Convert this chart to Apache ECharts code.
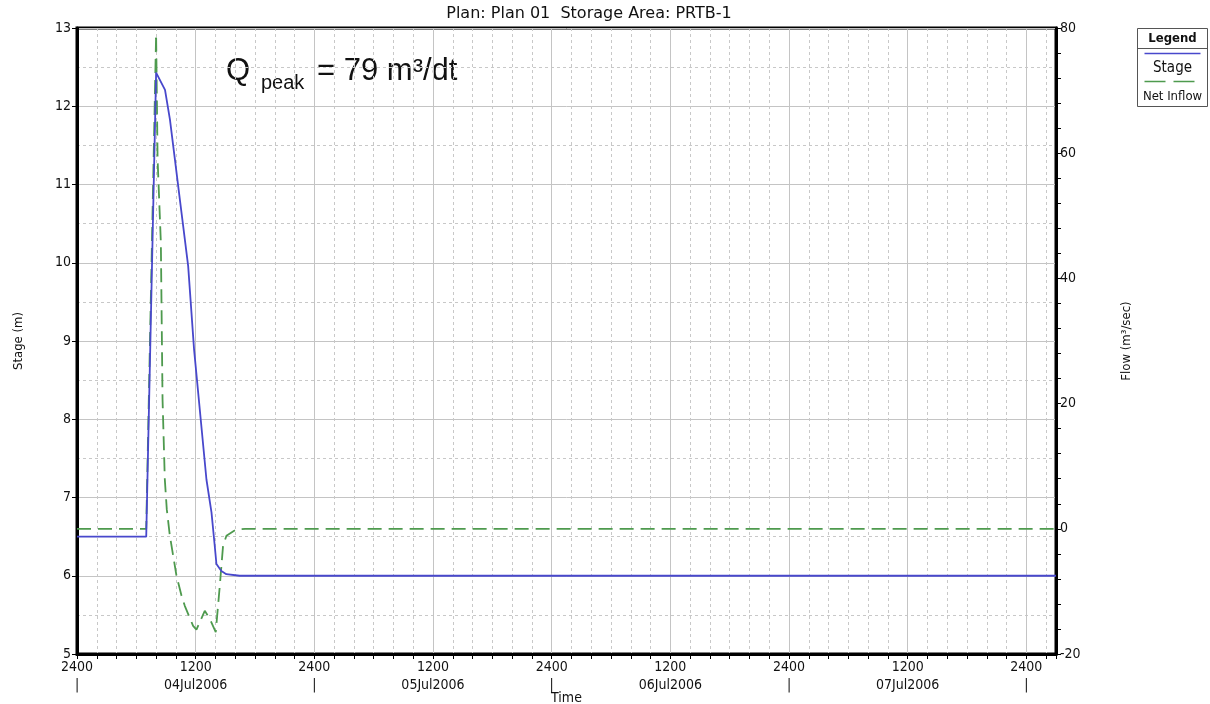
<!DOCTYPE html>
<html>
<head>
<meta charset="utf-8">
<script src="https://cdn.jsdelivr.net/npm/echarts@6/dist/echarts.min.js"></script>
<style>html,body{margin:0;padding:0;background:#fff}#c{width:1210px;height:704px}</style>
</head>
<body>
<div id="c"></div>
<script>
// Time in hours since 04Jul2006 0000
var stageTimes  = [0, 7, 8, 8.9, 9.4, 9.9, 10.4, 11.24, 11.84, 13.09, 13.6, 13.93, 14.1, 14.6, 15.1, 16.45, 99];
var stageValues = [6.5, 6.5, 12.43, 12.21, 11.83, 11.32, 10.81, 9.96, 8.89, 7.23, 6.81, 6.38, 6.15, 6.06, 6.02, 6.0, 6.0];
var flowTimes  = [0, 7, 8, 8.15, 8.48, 8.65, 8.88, 9.08, 9.39, 10.06, 10.57, 10.9, 11.74, 12.08, 12.92, 13.43, 14.03, 14.44, 14.77, 15.11, 16.12, 17, 99];
var flowValues = [0, 0, 79, 59, 45.7, 20.7, 7.9, 3.1, -1.1, -7.5, -10.7, -12.3, -15.5, -16.1, -13.1, -14.4, -16.5, -9.1, -2.7, -1.1, -0.1, 0, 0];
var dateLabels = ['04Jul2006', '05Jul2006', '06Jul2006', '07Jul2006'];
var titleText = 'Plan: Plan 01  Storage Area: PRTB-1';
var seriesNames = ['Stage', 'Net Inflow'];

var FONT = '"DejaVu Sans Condensed", "Liberation Sans", sans-serif';
var BLUE = '#4848cc';
var GREEN = '#4e9a4e';

function zip(a, b) { return a.map(function (v, i) { return [v, b[i]]; }); }

var chart = echarts.init(document.getElementById('c'), null, {renderer: 'canvas'});
chart.setOption({
  animation: false,
  backgroundColor: '#fff',
  title: {
    text: titleText, left: 584, top: 1, textAlign: 'center',
    textStyle: {fontFamily: '"DejaVu Sans", sans-serif', fontSize: 16, fontWeight: 'normal', color: '#111'}
  },
  grid: {left: 77, right: 154, top: 28, bottom: 50, outerBoundsMode: 'none', containLabel: false,
    show: true, borderColor: '#000', borderWidth: 3, backgroundColor: 'transparent'},
  xAxis: {
    type: 'value', min: 0, max: 99, interval: 12,
    name: 'Time', nameLocation: 'middle', nameGap: 37, nameMoveOverlap: false,
    nameTextStyle: {fontFamily: FONT, fontSize: 14, color: '#111'},
    axisLine: {show: true, onZero: false, lineStyle: {color: '#000', width: 3}},
    axisTick: {show: true, length: 5, lineStyle: {color: '#000', width: 1}},
    minorTick: {show: true, splitNumber: 6, length: 5, lineStyle: {color: '#000', width: 1}},
    axisLabel: {
      fontFamily: FONT, fontSize: 14, color: '#111', lineHeight: 18, margin: 4, showMaxLabel: false,
      formatter: function (v) {
        if (v % 24 === 0) return '2400\n|';
        if (v % 24 === 12) return '1200\n' + dateLabels[(v - 12) / 24];
        return '';
      }
    },
    splitLine: {show: true, lineStyle: {color: '#c4c4c4', width: 1}},
    minorSplitLine: {show: true, lineStyle: {color: '#c8c8c8', width: 1, type: [3, 3]}}
  },
  yAxis: [{
    type: 'value', min: 5, max: 13, interval: 1, position: 'left',
    name: 'Stage (m)', nameLocation: 'middle', nameGap: 52, nameRotate: 90,
    nameTextStyle: {fontFamily: FONT, fontSize: 13, color: '#111'},
    axisLine: {show: true, onZero: false, lineStyle: {color: '#000', width: 3}},
    axisTick: {show: true, length: 5, lineStyle: {color: '#000'}},
    minorTick: {show: false, splitNumber: 2},
    axisLabel: {fontFamily: FONT, fontSize: 14, color: '#111', margin: 6},
    splitLine: {show: true, lineStyle: {color: '#c4c4c4', width: 1}},
    minorSplitLine: {show: true, lineStyle: {color: '#c8c8c8', width: 1, type: [3, 3]}}
  }, {
    type: 'value', min: -20, max: 80, interval: 20, position: 'right',
    name: 'Flow (m³/sec)', nameLocation: 'middle', nameGap: 64, nameRotate: 90,
    nameTextStyle: {fontFamily: FONT, fontSize: 13, color: '#111'},
    axisLine: {show: true, onZero: false, lineStyle: {color: '#000', width: 3}},
    axisTick: {show: true, length: 5, lineStyle: {color: '#000'}},
    minorTick: {show: true, splitNumber: 5, length: 5, lineStyle: {color: '#000'}},
    axisLabel: {fontFamily: FONT, fontSize: 14, color: '#111', margin: 4},
    splitLine: {show: false}
  }],
  series: [{
    name: seriesNames[0], type: 'line', yAxisIndex: 0, data: zip(stageTimes, stageValues),
    showSymbol: false, smooth: false, lineStyle: {color: BLUE, width: 1.8}, itemStyle: {color: BLUE}, z: 3
  }, {
    name: seriesNames[1], type: 'line', yAxisIndex: 1, data: zip(flowTimes, flowValues),
    showSymbol: false, smooth: false, lineStyle: {color: GREEN, width: 1.8, type: [14, 7]}, itemStyle: {color: GREEN}, z: 2
  }],
  graphic: [
    {type: 'text', left: 226, top: 56, style: {text: 'Q', font: '31px "Liberation Sans", Arial, sans-serif', fill: '#111'}},
    {type: 'text', left: 261, top: 73, style: {text: 'peak', font: '20px "Liberation Sans", Arial, sans-serif', fill: '#111'}},
    {type: 'text', left: 317, top: 56, style: {text: '= 79 m³/dt', font: '31px "Liberation Sans", Arial, sans-serif', fill: '#111'}},
    {type: 'group', left: 1135, top: 28, children: [
      {type: 'rect', shape: {x: 0, y: 0, width: 70, height: 78}, style: {fill: '#fff', stroke: '#555', lineWidth: 1}},
      {type: 'line', shape: {x1: 0, y1: 20, x2: 70, y2: 20}, style: {stroke: '#555', lineWidth: 1}},
      {type: 'text', x: 35, y: 10, style: {text: 'Legend', font: 'bold 13px ' + FONT, fill: '#111', align: 'center', verticalAlign: 'middle'}},
      {type: 'line', shape: {x1: 7, y1: 25, x2: 63, y2: 25}, style: {stroke: BLUE, lineWidth: 1.5}},
      {type: 'text', x: 35, y: 40, style: {text: seriesNames[0], font: '15px ' + FONT, fill: '#111', align: 'center', verticalAlign: 'middle'}},
      {type: 'line', shape: {x1: 7, y1: 53, x2: 63, y2: 53}, style: {stroke: GREEN, lineWidth: 1.5, lineDash: [21, 8]}},
      {type: 'text', x: 35, y: 68, style: {text: seriesNames[1], font: '13px ' + FONT, fill: '#111', align: 'center', verticalAlign: 'middle'}}
    ]}
  ]
});
</script>
</body>
</html>
